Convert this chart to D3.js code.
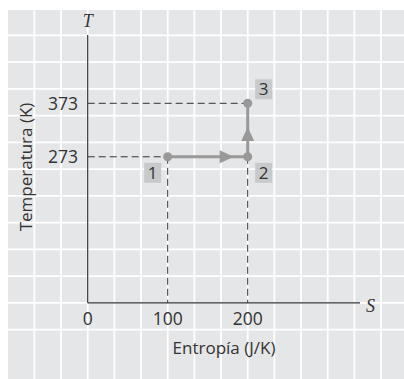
<!DOCTYPE html>
<html lang="es">
<head>
    <meta charset="UTF-8">
    <title>Diagrama T-S</title>
    <style>
        body {
            margin: 0;
            background: #fff;
        }
        svg text {
            font-family: "Open Sans", "Liberation Sans", Arial, sans-serif;
            fill: #333;
        }
        .sym {
            font-family: "Liberation Serif", "DejaVu Serif", serif !important;
            font-style: italic;
        }
    </style>
</head>
<body>
<div id="chart"></div>

<script src="https://d3js.org/d3.v7.min.js"></script>
<script>
    // Datos del proceso (entropía J/K, temperatura K)
    const pointNames = ["1", "2", "3"];
    const entropyValues = [100, 200, 200];
    const tempValues = [273, 273, 373];

    const xTicks = [0, 100, 200];
    const yTicks = [273, 373];

    const xLabel = "Entropía (J/K)";
    const yLabel = "Temperatura (K)";

    const width = 404;
    const height = 379;

    const svg = d3.select("#chart")
        .append("svg")
        .attr("width", width)
        .attr("height", height);

    // scales
    const x = d3.scaleLinear().domain([0, 300]).range([87.7, 327.7]);
    const y = d3.scaleLinear().domain([0, 373]).range([302.8, 103.3]);

    // background + grid
    svg.append("rect")
        .attr("x", 8).attr("y", 10)
        .attr("width", width - 8).attr("height", height - 10)
        .attr("fill", "#e5e6e7");

    const stepX = x(100 / 3) - x(0);
    const stepY = y(0) - y(50);
    const gx = d3.range(-2, 12).map(k => x(0) + k * stepX).filter(v => v > 8 && v < width);
    const gy = d3.range(-1, 11).map(k => y(0) - k * stepY).filter(v => v > 10 && v < height);

    svg.append("g").selectAll("line")
        .data(gx).enter().append("line")
        .attr("x1", d => d).attr("x2", d => d)
        .attr("y1", 10).attr("y2", height)
        .attr("stroke", "#fff").attr("stroke-width", 1.8);

    svg.append("g").selectAll("line")
        .data(gy).enter().append("line")
        .attr("y1", d => d).attr("y2", d => d)
        .attr("x1", 8).attr("x2", width)
        .attr("stroke", "#fff").attr("stroke-width", 1.8);

    // dashed guides
    const guides = svg.append("g")
        .attr("stroke", "#333")
        .attr("stroke-width", 1)
        .attr("stroke-dasharray", "7,4");

    guides.append("line")
        .attr("x1", x(0)).attr("x2", x(entropyValues[0]))
        .attr("y1", y(tempValues[0])).attr("y2", y(tempValues[0]));
    guides.append("line")
        .attr("x1", x(0)).attr("x2", x(entropyValues[2]))
        .attr("y1", y(tempValues[2])).attr("y2", y(tempValues[2]));
    guides.append("line")
        .attr("x1", x(entropyValues[0])).attr("x2", x(entropyValues[0]))
        .attr("y1", y(tempValues[0])).attr("y2", y(0));
    guides.append("line")
        .attr("x1", x(entropyValues[1])).attr("x2", x(entropyValues[1]))
        .attr("y1", y(tempValues[1])).attr("y2", y(0));

    // axes
    const axisColor = "#333";
    svg.append("line")
        .attr("x1", x(0)).attr("x2", x(0))
        .attr("y1", 35).attr("y2", y(0))
        .attr("stroke", axisColor).attr("stroke-width", 1.2);
    svg.append("line")
        .attr("x1", x(0)).attr("x2", 360)
        .attr("y1", y(0)).attr("y2", y(0))
        .attr("stroke", axisColor).attr("stroke-width", 1.2);

    svg.append("text")
        .attr("class", "sym")
        .attr("x", x(0)).attr("y", 27)
        .attr("text-anchor", "middle")
        .attr("font-size", 18)
        .text("T");
    svg.append("text")
        .attr("class", "sym")
        .attr("x", 366).attr("y", 312)
        .attr("font-size", 18)
        .text("S");

    svg.append("g").selectAll("text")
        .data(xTicks).enter().append("text")
        .attr("x", d => x(d))
        .attr("y", 325)
        .attr("text-anchor", "middle")
        .attr("font-size", 17.5)
        .text(d => d);

    svg.append("g").selectAll("text")
        .data(yTicks).enter().append("text")
        .attr("x", 78)
        .attr("y", d => y(d))
        .attr("dy", "0.36em")
        .attr("text-anchor", "end")
        .attr("font-size", 17.5)
        .text(d => d);

    svg.append("text")
        .attr("x", 224).attr("y", 354)
        .attr("text-anchor", "middle")
        .attr("font-size", 17)
        .text(xLabel);

    svg.append("text")
        .attr("transform", "translate(32,167) rotate(-90)")
        .attr("text-anchor", "middle")
        .attr("font-size", 17)
        .text(yLabel);

    // process path
    const procColor = "#999";
    const pts = pointNames.map((n, i) => ({ name: n, s: entropyValues[i], t: tempValues[i] }));

    svg.append("g").selectAll("line")
        .data(d3.pairs(pts)).enter().append("line")
        .attr("x1", d => x(d[0].s)).attr("y1", d => y(d[0].t))
        .attr("x2", d => x(d[1].s)).attr("y2", d => y(d[1].t))
        .attr("stroke", procColor).attr("stroke-width", 3);

    // arrowheads
    function arrowHead(px, py, angle) {
        svg.append("path")
            .attr("d", "M0,0L-14,-6.5L-14,6.5Z")
            .attr("fill", procColor)
            .attr("transform", `translate(${px},${py}) rotate(${angle})`);
    }
    arrowHead(x(entropyValues[1]) - 14, y(tempValues[1]), 0);
    arrowHead(x(entropyValues[2]), (y(tempValues[1]) + y(tempValues[2])) / 2 - 3, -90);

    svg.append("g").selectAll("circle")
        .data(pts).enter().append("circle")
        .attr("cx", d => x(d.s)).attr("cy", d => y(d.t))
        .attr("r", 4.5)
        .attr("fill", procColor);

    // point labels
    const labelPos = [
        { dx: -23.5, dy: 6 },
        { dx: 7.5, dy: 6 },
        { dx: 7.5, dy: -24 }
    ];
    const lab = svg.append("g").selectAll("g")
        .data(pts).enter().append("g")
        .attr("transform", (d, i) => `translate(${x(d.s) + labelPos[i].dx},${y(d.t) + labelPos[i].dy})`);
    lab.append("rect")
        .attr("width", 17).attr("height", 20)
        .attr("fill", "#c8c9ca");
    lab.append("text")
        .attr("x", 8.5).attr("y", 16)
        .attr("text-anchor", "middle")
        .attr("font-size", 17)
        .text(d => d.name);
</script>
</body>
</html>
